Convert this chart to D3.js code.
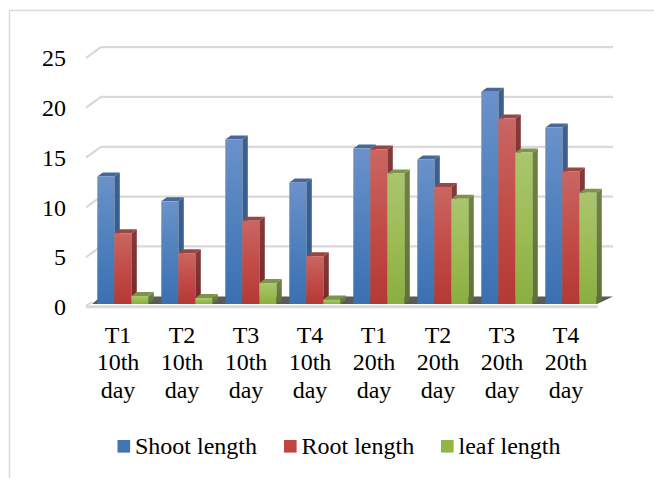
<!DOCTYPE html>
<html>
<head>
<meta charset="utf-8">
<script src="https://cdn.jsdelivr.net/npm/d3@7"></script>
<style>
  html, body { margin: 0; padding: 0; background: #fff; }
  text { font-family: "Liberation Serif", serif; fill: #000; }
</style>
</head>
<body>
<div class="draw-chart"></div>
<script>
const treatments = ["T1", "T2", "T3", "T4", "T1", "T2", "T3", "T4"];
const days = ["10th", "10th", "10th", "10th", "20th", "20th", "20th", "20th"];
const seriesNames = ["Shoot length", "Root length", "leaf length"];
const shoot = [12.8, 10.3, 16.5, 12.2, 15.6, 14.5, 21.3, 17.7];
const root = [7.1, 5.1, 8.35, 4.8, 15.5, 11.75, 18.6, 13.3];
const leaf = [0.8, 0.6, 2.1, 0.45, 13.1, 10.55, 15.2, 11.15];
const yTicks = [0, 5, 10, 15, 20, 25];

const seriesValues = [shoot, root, leaf];
const colors = [
  { id: "blue", stops: ["#6c91ca", "#4f81bd", "#3b6fb1"], side: ["#3f5f8c", "#2f5a90"], top: "#47699a", key: "#4273b5" },
  { id: "red", stops: ["#ca6663", "#c24c48", "#b53835"], side: ["#843a38", "#772a28"], top: "#984543", key: "#c0443f" },
  { id: "green", stops: ["#aac56e", "#9cbc55", "#8aae3f"], side: ["#6f8443", "#5d7430"], top: "#7d9449", key: "#92b545" },
];

const svg = d3.select(".draw-chart").append("svg").attr("width", 654).attr("height", 478).style("display", "block");

// 3d offsets of the walls and of the columns
const wall = { dx: 15, dy: -7.5 };
const bar = { dx: 5.5, dy: -4 };

const x = d3.scaleBand().domain(d3.range(treatments.length)).range([86, 598]);
const xInner = d3.scaleBand().domain(d3.range(seriesNames.length)).range([11.3, 62.3]);
const y = d3.scaleLinear().domain([0, 25]).range([304, 54.8]);

const defs = svg.append("defs");
colors.forEach((c) => {
  const front = defs.append("linearGradient").attr("id", c.id).attr("x1", 0).attr("y1", 0).attr("x2", 0).attr("y2", 1);
  c.stops.forEach((s, i) => front.append("stop").attr("offset", i / 2).attr("stop-color", s));
  const side = defs.append("linearGradient").attr("id", c.id + "-side").attr("x1", 0).attr("y1", 0).attr("x2", 0).attr("y2", 1);
  c.side.forEach((s, i) => side.append("stop").attr("offset", i).attr("stop-color", s));
});

// frame of the chart area
svg.append("path").attr("d", "M9.5,478V10.5H654").attr("fill", "none").attr("stroke", "#dcdcdc").attr("stroke-width", 1.5);

// gridlines on the side and back walls
const grid = svg.append("g").attr("fill", "none").attr("stroke", "#d9d9d9").attr("stroke-width", 2.2);
yTicks.filter((t) => t > 0).forEach((t) => {
  grid.append("path").attr("d", d3.line()([
    [86, y(t) + 3],
    [86 + wall.dx, y(t) + wall.dy - 0.2],
    [613, y(t) + wall.dy - 0.2],
  ]));
});

// floor
svg.append("path")
  .attr("d", d3.line()([[92, 304], [101, 296.5], [613, 296.5], [597, 304]]) + "Z")
  .attr("fill", "#5a5a5a");
svg.append("path")
  .attr("d", d3.line()([[86, 306.8], [598, 306.8]]))
  .attr("stroke", "#d9d9d9").attr("stroke-width", 3);
svg.append("path")
  .attr("d", d3.line()([[86, 305.8], [92, 302]]))
  .attr("stroke", "#d9d9d9").attr("stroke-width", 1.6);

// columns
treatments.forEach((t, i) => {
  const g = svg.append("g").attr("transform", "translate(" + x(i) + ",0)");
  seriesValues.forEach((vals, s) => {
    const c = colors[s];
    const x0 = xInner(s);
    const w = xInner.bandwidth();
    const top = y(vals[i]);
    g.append("path")
      .attr("d", d3.line()([[x0 + w, top], [x0 + w + bar.dx, top + bar.dy], [x0 + w + bar.dx, y(0) + bar.dy], [x0 + w, y(0)]]) + "Z")
      .attr("fill", "url(#" + c.id + "-side)");
    g.append("path")
      .attr("d", d3.line()([[x0, top], [x0 + bar.dx, top + bar.dy], [x0 + w + bar.dx, top + bar.dy], [x0 + w, top]]) + "Z")
      .attr("fill", c.top);
    g.append("rect")
      .attr("x", x0).attr("y", top).attr("width", w).attr("height", y(0) - top)
      .attr("fill", "url(#" + c.id + ")");
  });
});

// value axis
const yAxis = svg.append("g")
  .attr("transform", "translate(66,3)")
  .call(d3.axisLeft(y).tickValues(yTicks).tickSize(0).tickPadding(0));
yAxis.select(".domain").remove();
yAxis.selectAll("text").style("font-family", '"Liberation Serif", serif').style("font-size", "24px").attr("fill", "#000");

// category axis, three lines per tick
const xAxis = svg.append("g")
  .attr("transform", "translate(0,304)")
  .call(d3.axisBottom(x).tickSize(0).tickFormat(""));
xAxis.select(".domain").remove();
const labelText = xAxis.selectAll(".tick text")
  .style("font-family", '"Liberation Serif", serif').style("font-size", "24px").attr("fill", "#000")
  .attr("y", 0).attr("dy", 0);
labelText.each(function (d) {
  const lines = [treatments[d], days[d], "day"];
  d3.select(this).selectAll("tspan").data(lines).enter().append("tspan")
    .attr("x", 0).attr("y", (l, k) => 38.5 + k * 27.8).text((l) => l);
});

// legend
const legendX = d3.scaleOrdinal().domain(seriesNames).range([117.5, 284, 441]);
const legend = svg.selectAll(".legend").data(seriesNames).enter().append("g")
  .attr("class", "legend")
  .attr("transform", (d) => "translate(" + legendX(d) + ",440)");
legend.append("rect").attr("width", 12.6).attr("height", 12.6).attr("fill", (d, i) => colors[i].key);
legend.append("text").attr("x", 17.5).attr("y", 13.5).style("font-size", "24px").text((d) => d);
</script>
</body>
</html>
